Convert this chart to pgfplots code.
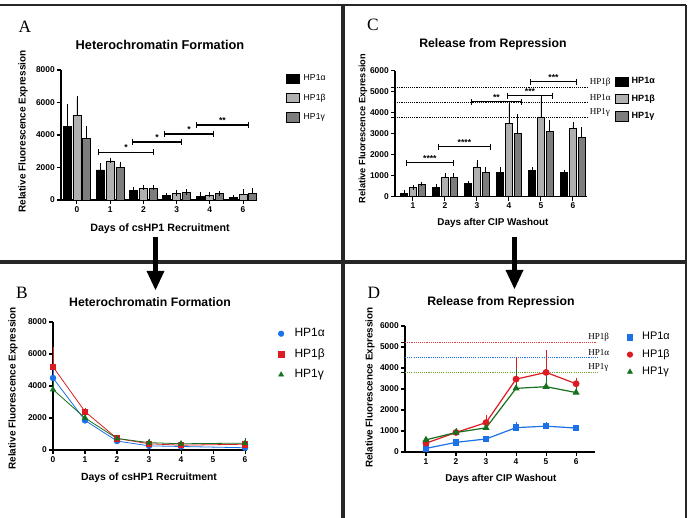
\documentclass[border=0pt]{standalone}
\usepackage{fontspec}
\setmainfont{Liberation Sans}
\newfontfamily\seriffont{Liberation Serif}
\usepackage{pgfplots}
\usepackage{pgfplotstable}
\pgfplotsset{compat=1.18}
\usetikzlibrary{arrows.meta}

\definecolor{hpblue}{RGB}{28,112,232}
\definecolor{hpred}{RGB}{220,28,34}
\definecolor{hpgreen}{RGB}{22,112,30}
\definecolor{hpolive}{RGB}{110,165,40}
\definecolor{barlight}{RGB}{176,176,176}
\definecolor{bardark}{RGB}{125,125,125}
\definecolor{rule}{RGB}{38,38,38}

\newcommand{\fs}[1]{\fontsize{#1}{#1}\selectfont}

% HP1 recruitment: mean and upper error, days 0-6 (pos = category slot)
\pgfplotstableread{
pos day a ae b be g ge
0 0 4500 1250 5200 1050 3780 620
1 1 1850 250 2400 50 2000 200
2 2 560 100 720 50 720 50
3 3 260 30 390 40 460 30
4 4 220 130 300 40 390 30
5 6 140 20 360 150 430 130
}\formation
% Release after CIP washout: mean and upper error, days 1-6
\pgfplotstableread{
day a ae b be g ge
1 170 20 420 30 580 20
2 460 40 930 80 930 80
3 620 20 1400 220 1150 160
4 1160 160 3470 910 3030 790
5 1230 60 3790 920 3110 450
6 1140 15 3250 170 2830 360
}\release

\pgfplotsset{
  every axis title shift=0pt,
  panel/.style={
    scale only axis, clip=false, anchor=south west,
    axis lines*=left,
    x axis line style={-}, y axis line style={-},
    axis line style={line width=0.9pt, black},
    tick align=outside, major tick length=3pt,
    tick style={black, line width=0.8pt},
    ymin=0,
    /pgf/number format/assume math mode=true,
    /pgf/number format/1000 sep={},
    ticklabel style={font=\bfseries\fs{6.3}, inner sep=1.5pt},
    label style={font=\bfseries\fs{7.6}},
    title style={font=\bfseries\fs{9.2}},
    legend cell align=left,
  },
  boxlegend/.style={legend image code/.code={\draw[##1] (0pt,-3.5pt) rectangle (9.5pt,3.5pt);}},
  % bars in the grouped charts: the x offset is given with the table, so error bars follow
  groupbar/.style n args={3}{ybar, bar width=#1, bar shift=0pt, draw=black, fill=#2, line width=0.6pt,
    error bars/y dir=plus, error bars/y explicit,
    error bars/error bar style={black, line width=0.6pt},
    error bars/error mark options={black, line width=0.6pt, mark size=#3}},
  trend/.style n args={2}{#1, line width=#2,
    error bars/y dir=plus, error bars/y explicit,
    error bars/error bar style={#1, line width=0.6pt},
    error bars/error mark options={#1, line width=0.6pt, mark size=2pt}},
}
\tikzset{
  bracket/.style={line width=0.8pt, {Bar[width=4.5pt]}-{Bar[width=4.5pt]}},
  stars/.style={font=\bfseries\fs{6.5}, anchor=south, inner sep=0.6pt},
  reflabel/.style={font=\seriffont\fs{6.8}, anchor=west, inner sep=0pt},
}

\begin{document}
\begin{tikzpicture}
\useasboundingbox (0,0) rectangle (517.5pt,388.5pt);

% ---------------- A: bars, heterochromatin formation ----------------
\begin{axis}[panel, at={(45.75pt,238.5pt)}, width=147pt, height=97.5pt,
  xmin=-0.48, xmax=5.42, ymax=8000, ytick distance=2000,
  xtick={0,...,5}, xticklabels={0,1,2,3,4,6},
  title={Heterochromatin Formation},
  title style={font=\bfseries\fs{9.6}, at={(axis description cs:0.505,1.192)}, anchor=center},
  xlabel={Days of csHP1 Recruitment},
  xlabel style={font=\bfseries\fs{8}, at={(axis description cs:0.505,-0.223)}, anchor=center},
  ylabel={Relative Fluorescence Expression},
  ylabel style={font=\bfseries\fs{7.5}, at={(axis description cs:-0.194,0.527)}, anchor=center},
  legend style={draw=none, fill=none, inner sep=0pt, at={(1.148,0.975)}, anchor=north west,
    row sep=6.9pt, column sep=3pt, nodes={inner sep=0pt, font=\fs{6.5}}},
]
\addlegendimage{boxlegend, draw=black, fill=black, line width=0.6pt}
\addlegendentry{HP1α}
\addlegendimage{boxlegend, draw=black, fill=barlight, line width=0.6pt}
\addlegendentry{HP1β}
\addlegendimage{boxlegend, draw=black, fill=bardark, line width=0.6pt}
\addlegendentry{HP1γ}

\addplot[forget plot, groupbar={6pt}{black}{2pt}]
  table[x expr=\thisrow{pos}-0.295, y=a, y error plus=ae] {\formation};
\addplot[forget plot, groupbar={6pt}{barlight}{2pt}]
  table[x=pos, y=b, y error plus=be] {\formation};
\addplot[forget plot, groupbar={6pt}{bardark}{2pt}]
  table[x expr=\thisrow{pos}+0.295, y=g, y error plus=ge] {\formation};

\draw[bracket] (axis cs:0.63,2950) -- (axis cs:2.32,2950);
\node[stars] at (axis cs:1.475,2950) {*};
\draw[bracket] (axis cs:1.66,3570) -- (axis cs:3.16,3570);
\node[stars] at (axis cs:2.41,3570) {*};
\draw[bracket] (axis cs:2.62,4060) -- (axis cs:4.13,4060);
\node[stars] at (axis cs:3.375,4060) {*};
\draw[bracket] (axis cs:3.58,4615) -- (axis cs:5.18,4615);
\node[stars] at (axis cs:4.38,4615) {**};
\end{axis}

% ---------------- C: bars, release from repression ----------------
\begin{axis}[panel, at={(296.25pt,240.98pt)}, width=144pt, height=94.5pt,
  xmin=0.44, xmax=6.44, ymax=6000, ytick distance=1000, xtick={1,...,6},
  extra y ticks={3780,5200}, extra y tick labels={},
  title={Release from Repression},
  title style={at={(axis description cs:0.51,1.212)}, anchor=center},
  xlabel={Days after CIP Washout},
  xlabel style={font=\bfseries\fs{7.4}, at={(axis description cs:0.51,-0.209)}, anchor=center},
  ylabel={Relative Fluorescence Expression},
  ylabel style={font=\bfseries\fs{6.9}, at={(axis description cs:-0.167,0.54)}, anchor=center},
  legend style={draw=none, fill=none, inner sep=0pt, at={(1.146,0.956)}, anchor=north west,
    row sep=5.4pt, column sep=2.2pt, nodes={inner sep=0pt, font=\bfseries\fs{6.8}}},
]
\addlegendimage{boxlegend, draw=black, fill=black, line width=0.6pt}
\addlegendentry{HP1α}
\addlegendimage{boxlegend, draw=black, fill=barlight, line width=0.6pt}
\addlegendentry{HP1β}
\addlegendimage{boxlegend, draw=black, fill=bardark, line width=0.6pt}
\addlegendentry{HP1γ}

% reference levels from day 0 of panel A
\addplot[forget plot, black, line width=0.6pt, dash pattern=on 0.7pt off 0.7pt] coordinates {(0.44,5200) (6.5,5200)};
\addplot[forget plot, black, line width=0.6pt, dash pattern=on 0.7pt off 0.7pt] coordinates {(0.44,4500) (6.5,4500)};
\addplot[forget plot, black, line width=0.6pt, dash pattern=on 0.7pt off 0.7pt] coordinates {(0.44,3780) (6.5,3780)};
\node[reflabel] at (axis cs:6.52,5460) {HP1β};
\node[reflabel] at (axis cs:6.52,4700) {HP1α};
\node[reflabel] at (axis cs:6.52,3990) {HP1γ};

\addplot[forget plot, groupbar={5.25pt}{black}{1.8pt}]
  table[x expr=\thisrow{day}-0.271, y=a, y error plus=ae] {\release};
\addplot[forget plot, groupbar={5.25pt}{barlight}{1.8pt}]
  table[x=day, y=b, y error plus=be] {\release};
\addplot[forget plot, groupbar={5.25pt}{bardark}{1.8pt}]
  table[x expr=\thisrow{day}+0.271, y=g, y error plus=ge] {\release};

\draw[bracket] (axis cs:0.78,1620) -- (axis cs:2.28,1620);
\node[stars] at (axis cs:1.53,1620) {****};
\draw[bracket] (axis cs:1.78,2380) -- (axis cs:3.44,2380);
\node[stars] at (axis cs:2.61,2380) {****};
\draw[bracket] (axis cs:2.81,4520) -- (axis cs:4.41,4520);
\node[stars] at (axis cs:3.61,4520) {**};
\draw[bracket] (axis cs:3.94,4810) -- (axis cs:5.38,4810);
\node[stars] at (axis cs:4.66,4810) {***};
\draw[bracket] (axis cs:4.66,5480) -- (axis cs:6.13,5480);
\node[stars] at (axis cs:5.395,5480) {***};
\end{axis}

% ---------------- B: lines, heterochromatin formation ----------------
\begin{axis}[panel, at={(39.75pt,51pt)}, width=145.5pt, height=96pt,
  xmin=0, xmax=6.06, ymax=8000, ytick distance=2000, xtick={0,...,6},
  title={Heterochromatin Formation},
  title style={at={(axis description cs:0.5,1.156)}, anchor=center},
  xlabel={Days of csHP1 Recruitment},
  xlabel style={font=\bfseries\fs{7.8}, at={(axis description cs:0.495,-0.219)}, anchor=center},
  ylabel={Relative Fluorescence Expression},
  ylabel style={font=\bfseries\fs{7.5}, at={(axis description cs:-0.206,0.48)}, anchor=center},
  legend style={draw=none, fill=none, inner sep=0pt, at={(1.16,0.955)}, anchor=north west,
    row sep=6.9pt, column sep=8pt, nodes={inner sep=0pt, font=\fs{9}, text height=6.5pt, text depth=2pt}},
]
\addlegendimage{only marks, mark=*, mark size=2.1pt, hpblue}
\addlegendentry{HP1α}
\addlegendimage{only marks, mark=square*, mark size=2pt, hpred}
\addlegendentry{HP1β}
\addlegendimage{only marks, mark=triangle*, mark size=2.2pt, hpgreen}
\addlegendentry{HP1γ}

\addplot[forget plot, trend={hpblue}{0.6pt}, mark=*, mark size=2.1pt]
  table[x=day, y=a, y error plus=ae] {\formation};
\addplot[forget plot, trend={hpred}{0.6pt}, mark=square*, mark size=2pt]
  table[x=day, y=b, y error plus=be] {\formation};
\addplot[forget plot, trend={hpgreen}{0.6pt}, mark=triangle*, mark size=2.2pt]
  table[x=day, y=g, y error plus=ge] {\formation};
\end{axis}

% ---------------- D: lines, release from repression ----------------
\begin{axis}[panel, at={(303.75pt,49.5pt)}, width=142.5pt, height=94.5pt,
  xmin=0.3, xmax=6.63, ymax=6000, ytick distance=1000, xtick={1,...,6},
  extra y ticks={3780,5200}, extra y tick labels={},
  title={Release from Repression},
  title style={at={(axis description cs:0.505,1.19)}, anchor=center},
  xlabel={Days after CIP Washout},
  xlabel style={font=\bfseries\fs{7.4}, at={(axis description cs:0.505,-0.214)}, anchor=center},
  ylabel={Relative Fluorescence Expression},
  ylabel style={font=\bfseries\fs{7.4}, at={(axis description cs:-0.184,0.51)}, anchor=center},
  legend style={draw=none, fill=none, inner sep=0pt, at={(1.168,0.955)}, anchor=north west,
    row sep=5pt, column sep=7pt, nodes={inner sep=0pt, font=\fs{8.2}, text height=6pt, text depth=2pt}},
]
\addlegendimage{only marks, mark=square*, mark size=2pt, hpblue}
\addlegendentry{HP1α}
\addlegendimage{only marks, mark=*, mark size=2.1pt, hpred}
\addlegendentry{HP1β}
\addlegendimage{only marks, mark=triangle*, mark size=2.2pt, hpgreen}
\addlegendentry{HP1γ}

% reference levels from day 0 of panel B
\addplot[forget plot, hpred!85, line width=0.7pt, dash pattern=on 0.7pt off 0.7pt] coordinates {(0.3,5200) (6.7,5200)};
\addplot[forget plot, hpblue, line width=0.9pt, dash pattern=on 0.8pt off 0.8pt] coordinates {(0.3,4500) (6.7,4500)};
\addplot[forget plot, hpolive, line width=0.9pt, dash pattern=on 0.8pt off 0.8pt] coordinates {(0.3,3780) (6.7,3780)};
\node[reflabel] at (axis cs:6.4,5450) {HP1β};
\node[reflabel] at (axis cs:6.4,4730) {HP1α};
\node[reflabel] at (axis cs:6.4,4030) {HP1γ};

\addplot[forget plot, trend={hpblue}{0.9pt}, mark=square*, mark size=2pt]
  table[x=day, y=a, y error plus=ae] {\release};
\addplot[forget plot, trend={hpred}{0.9pt}, mark=*, mark size=2.1pt]
  table[x=day, y=b, y error plus=be] {\release};
\addplot[forget plot, trend={hpgreen}{0.9pt}, mark=triangle*, mark size=2.2pt]
  table[x=day, y=g, y error plus=ge] {\release};
\end{axis}

% ---------------- frame, arrows and panel letters (pixel grid) ----------------
\begin{scope}[x=0.75pt, y=-0.75pt, yshift=388.5pt]
  \draw[rule, line width=1.5pt] (0,5) -- (686,5);
  \draw[rule, line width=2.2pt] (686,5) -- (686,518);
  \draw[rule, line width=2.6pt] (343,5) -- (343,518);
  \draw[rule, line width=3pt] (0,262) -- (686,262);
  \fill[black] (153.3,237) rectangle (157.8,273);
  \fill[black] (146.5,271) -- (164.5,271) -- (155.5,290) -- cycle;
  \fill[black] (512.3,237) rectangle (516.8,272);
  \fill[black] (505.5,270) -- (523.5,270) -- (514.5,289) -- cycle;
  \node[font=\seriffont\fs{13}] at (25,27) {A};
  \node[font=\seriffont\fs{13}] at (22,293) {B};
  \node[font=\seriffont\fs{13}] at (373,25) {C};
  \node[font=\seriffont\fs{13}] at (374,293) {D};
\end{scope}
\end{tikzpicture}
\end{document}
